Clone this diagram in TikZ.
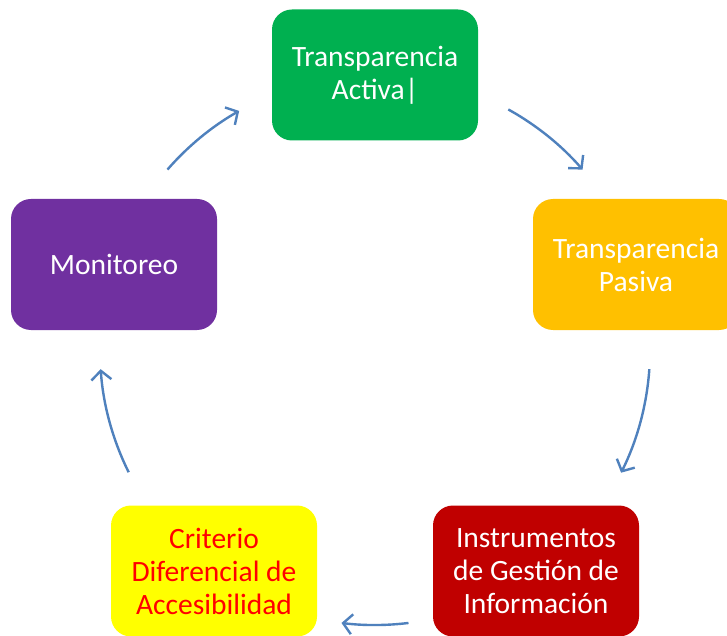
\documentclass[tikz,border=0pt]{standalone}
\usepackage{fontspec}
\setmainfont{Carlito}
\usetikzlibrary{arrows.meta}
\definecolor{cgreen}{HTML}{00B050}
\definecolor{corange}{HTML}{FFC000}
\definecolor{cred}{HTML}{C00000}
\definecolor{cyellow}{HTML}{FFFF00}
\definecolor{cpurple}{HTML}{7030A0}
\definecolor{cblue}{HTML}{4F81BD}
\definecolor{ctextred}{HTML}{FF0000}
\tikzset{
  box/.style={rounded corners=20pt, minimum width=206pt, minimum height=131pt,
    inner sep=0pt, align=center, text=white,
    font=\fontsize{29.5}{33}\selectfont},
  arr/.style={draw=cblue, line width=2.4pt,
    -{Straight Barb[length=9pt,width=20pt]}}
}
\begin{document}
\begin{tikzpicture}[x=1pt,y=1pt]
\useasboundingbox (0,0) rectangle (727,635);
\clip (0,0) rectangle (727,635);
\fill[white] (0,0) rectangle (727,635);
\node[box, fill=cgreen] (ta) at (375,560) {Transparencia\\Activa|};
\node[box, fill=corange] (tp) at (636,370.5) {Transparencia\\Pasiva};
\node[box, fill=cred] (ig) at (536,64) {Instrumentos\\de Gestión de\\Información};
\node[box, fill=cyellow, text=ctextred] (cd) at (214,64) {Criterio\\Diferencial de\\Accesibilidad};
\node[box, fill=cpurple] (mo) at (114,370.5) {Monitoreo};
\coordinate (c) at (375,285);
\path (c) ++(61:275) coordinate (a1);
\path (c) ++(-4:275) coordinate (a2);
\path (c) ++(-83:275) coordinate (a3);
\path (c) ++(-153.6:275) coordinate (a4);
\path (c) ++(139:275) coordinate (a5);
\draw[arr] (a1) arc[start angle=61, end angle=41, radius=275];
\draw[arr] (a2) arc[start angle=-4, end angle=-26.5, radius=275];
\draw[arr] (a3) arc[start angle=-83, end angle=-97, radius=275];
\draw[arr] (a4) arc[start angle=-153.6, end angle=-176, radius=275];
\draw[arr] (a5) arc[start angle=139, end angle=119.6, radius=275];
\end{tikzpicture}
\end{document}
